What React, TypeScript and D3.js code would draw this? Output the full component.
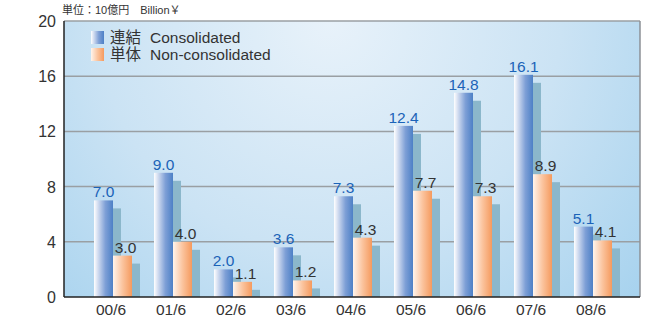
import * as d3 from 'd3';
import { useEffect, useRef } from 'react';

const categories = ['00/6', '01/6', '02/6', '03/6', '04/6', '05/6', '06/6', '07/6', '08/6'];
const consolidated = [7.0, 9.0, 2.0, 3.6, 7.3, 12.4, 14.8, 16.1, 5.1];
const nonConsolidated = [3.0, 4.0, 1.1, 1.2, 4.3, 7.7, 7.3, 8.9, 4.1];
const yTicks = [0, 4, 8, 12, 16, 20];
const legendJa = ['連結', '単体'];
const legendEn = ['Consolidated', 'Non-consolidated'];
const unitLabel = '単位：10億円　Billion￥';

const width = 646;
const height = 319;
const plot = { left: 64, right: 640, top: 21, bottom: 297 };
const fontFamily = '"Liberation Sans", Arial, "Noto Sans CJK JP", sans-serif';

const App = () => {
  const svgRef = useRef<SVGSVGElement | null>(null);

  useEffect(() => {
    if (!svgRef.current) return;
    const svg = d3.select(svgRef.current);
    svg.selectAll('*').remove();

    const defs = svg.append('defs');

    const bg = defs
      .append('radialGradient')
      .attr('id', 'bg')
      .attr('gradientUnits', 'userSpaceOnUse')
      .attr('cx', 330)
      .attr('cy', 20)
      .attr('r', 420);
    bg.append('stop').attr('offset', 0).attr('stop-color', '#e8f2fa');
    bg.append('stop').attr('offset', 0.55).attr('stop-color', '#cbe3f4');
    bg.append('stop').attr('offset', 1).attr('stop-color', '#a6d2ee');

    const blue = defs.append('linearGradient').attr('id', 'blue').attr('x1', 0).attr('x2', 1).attr('y1', 0).attr('y2', 0);
    blue.append('stop').attr('offset', 0).attr('stop-color', '#ffffff');
    blue.append('stop').attr('offset', 0.15).attr('stop-color', '#dfe6f4');
    blue.append('stop').attr('offset', 0.6).attr('stop-color', '#7e9fd6');
    blue.append('stop').attr('offset', 1).attr('stop-color', '#4d80c6');

    const orange = defs.append('linearGradient').attr('id', 'orange').attr('x1', 0).attr('x2', 1).attr('y1', 0).attr('y2', 0);
    orange.append('stop').attr('offset', 0).attr('stop-color', '#fff4ec');
    orange.append('stop').attr('offset', 0.5).attr('stop-color', '#fbc49e');
    orange.append('stop').attr('offset', 1).attr('stop-color', '#f59a5e');

    const x = d3.scaleBand<string>().domain(categories).range([83, 623]);
    const y = d3.scaleLinear().domain([0, 20]).range([plot.bottom, plot.top]);
    const barWidth = 19;
    const shadowDx = 8;
    const shadowDy = 8;
    const center = (c: string) => (x(c) ?? 0) + x.bandwidth() / 2;

    svg
      .append('rect')
      .attr('x', plot.left)
      .attr('y', plot.top)
      .attr('width', plot.right - plot.left)
      .attr('height', plot.bottom - plot.top)
      .attr('fill', 'url(#bg)');

    // grid
    svg
      .append('g')
      .selectAll('line')
      .data(yTicks.filter((t) => t > 0))
      .join('line')
      .attr('x1', plot.left)
      .attr('x2', plot.right)
      .attr('y1', (t) => y(t))
      .attr('y2', (t) => y(t))
      .attr('stroke', '#9a9fa3')
      .attr('stroke-width', 1.5);

    svg
      .append('line')
      .attr('x1', plot.right)
      .attr('x2', plot.right)
      .attr('y1', plot.top)
      .attr('y2', plot.bottom)
      .attr('stroke', '#8c9196')
      .attr('stroke-width', 1.5);

    const series = [
      { values: consolidated, offset: -barWidth, fill: 'url(#blue)', labelColor: '#1b63b8', labelDx: 0 },
      { values: nonConsolidated, offset: 0, fill: 'url(#orange)', labelColor: '#333333', labelDx: 3 },
    ];

    // shadows first, then bars
    series.forEach((s) => {
      svg
        .append('g')
        .selectAll('rect')
        .data(categories)
        .join('rect')
        .attr('x', (c) => center(c) + s.offset + shadowDx)
        .attr('y', (_, i) => Math.min(y(s.values[i]) + shadowDy, plot.bottom))
        .attr('width', barWidth)
        .attr('height', (_, i) => Math.max(plot.bottom - y(s.values[i]) - shadowDy, 0))
        .attr('fill', '#8bb7cb');
    });

    series.forEach((s) => {
      svg
        .append('g')
        .selectAll('rect')
        .data(categories)
        .join('rect')
        .attr('x', (c) => center(c) + s.offset)
        .attr('y', (_, i) => y(s.values[i]))
        .attr('width', barWidth)
        .attr('height', (_, i) => plot.bottom - y(s.values[i]))
        .attr('fill', s.fill);

      svg
        .append('g')
        .selectAll('text')
        .data(categories)
        .join('text')
        .attr('x', (c) => center(c) + s.offset + barWidth / 2 + s.labelDx)
        .attr('y', (_, i) => y(s.values[i]) - 3)
        .attr('text-anchor', 'middle')
        .attr('fill', s.labelColor)
        .style('font-family', fontFamily)
        .style('font-size', '15.5px')
        .text((_, i) => s.values[i].toFixed(1));
    });

    // axes lines
    svg
      .append('line')
      .attr('x1', plot.left)
      .attr('x2', plot.left)
      .attr('y1', plot.top)
      .attr('y2', plot.bottom)
      .attr('stroke', '#222')
      .attr('stroke-width', 1.5);
    svg
      .append('line')
      .attr('x1', plot.left)
      .attr('x2', plot.right)
      .attr('y1', plot.bottom)
      .attr('y2', plot.bottom)
      .attr('stroke', '#222')
      .attr('stroke-width', 1.5);

    svg
      .append('g')
      .selectAll('text')
      .data(yTicks)
      .join('text')
      .attr('x', 56)
      .attr('y', (t) => y(t) + 6)
      .attr('text-anchor', 'end')
      .attr('fill', '#333')
      .style('font-family', fontFamily)
      .style('font-size', '16px')
      .text((t) => t);

    svg
      .append('g')
      .selectAll('text')
      .data(categories)
      .join('text')
      .attr('x', (c) => center(c) - 2)
      .attr('y', 315)
      .attr('text-anchor', 'middle')
      .attr('fill', '#333')
      .style('font-family', fontFamily)
      .style('font-size', '15.5px')
      .text((c) => c);

    svg
      .append('text')
      .attr('x', 62)
      .attr('y', 14)
      .attr('fill', '#333')
      .style('font-family', fontFamily)
      .style('font-size', '11px')
      .text(unitLabel);

    // legend
    const legend = svg.append('g').attr('transform', 'translate(91, 31)');
    ['url(#blue)', 'url(#orange)'].forEach((fill, i) => {
      legend
        .append('rect')
        .attr('x', 0)
        .attr('y', i * 17)
        .attr('width', 13)
        .attr('height', 13)
        .attr('fill', fill);
      legend
        .append('text')
        .attr('x', 19)
        .attr('y', i * 17 + 12)
        .attr('fill', '#333')
        .style('font-family', fontFamily)
        .style('font-size', '15.5px')
        .text(legendJa[i]);
      legend
        .append('text')
        .attr('x', 59)
        .attr('y', i * 17 + 12)
        .attr('fill', '#333')
        .style('font-family', fontFamily)
        .style('font-size', '15.5px')
        .text(legendEn[i]);
    });
  }, []);

  return (
    <svg
      ref={svgRef}
      width={width}
      height={height}
      style={{ position: 'absolute', left: 0, top: 0, background: '#fff' }}
    />
  );
};

export default App;
